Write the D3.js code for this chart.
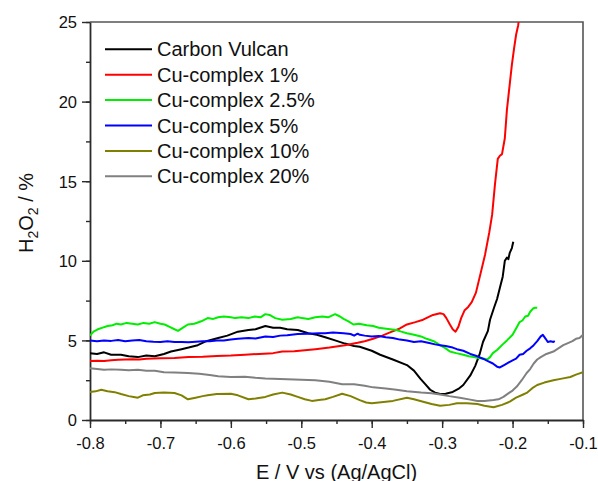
<!DOCTYPE html>
<html>
<head>
<meta charset="utf-8">
<script src="https://cdn.jsdelivr.net/npm/d3@7"></script>
<style>
  html, body { margin: 0; padding: 0; background: #fff; }
  svg { display: block; font-family: "Liberation Sans", Arial, sans-serif; }
</style>
</head>
<body>
<svg id="chart" width="598" height="481"></svg>
<script>
// Potential (V vs Ag/AgCl) and H2O2 yield (%) for each catalyst, as [E, H2O2] pairs
const carbonVulcan = [[-0.8,4.2],[-0.79,4.15],[-0.78,4.25],[-0.77,4.1],[-0.756,4.1],[-0.745,4.0],[-0.732,3.95],[-0.72,4.05],[-0.708,4.0],[-0.695,4.15],[-0.685,4.3],[-0.67,4.45],[-0.66,4.55],[-0.647,4.7],[-0.635,4.95],[-0.618,5.15],[-0.605,5.3],[-0.59,5.55],[-0.575,5.65],[-0.565,5.7],[-0.551,5.9],[-0.54,5.8],[-0.53,5.8],[-0.52,5.7],[-0.505,5.65],[-0.49,5.45],[-0.478,5.35],[-0.466,5.2],[-0.452,5.0],[-0.438,4.8],[-0.425,4.65],[-0.417,4.6],[-0.4,4.35],[-0.388,4.1],[-0.37,3.8],[-0.35,3.45],[-0.34,3.1],[-0.331,2.6],[-0.324,2.25],[-0.317,1.9],[-0.31,1.72],[-0.303,1.63],[-0.295,1.65],[-0.285,1.76],[-0.277,1.95],[-0.27,2.2],[-0.26,2.8],[-0.253,3.4],[-0.247,4.1],[-0.242,4.9],[-0.235,5.6],[-0.232,6.3],[-0.226,7.1],[-0.222,7.6],[-0.218,8.3],[-0.214,9.0],[-0.211,10.0],[-0.208,10.2],[-0.206,10.1],[-0.204,10.5],[-0.201,10.8],[-0.199,11.2]];
const cu1 = [[-0.8,3.7],[-0.79,3.72],[-0.78,3.7],[-0.77,3.75],[-0.76,3.78],[-0.75,3.8],[-0.74,3.82],[-0.73,3.8],[-0.72,3.85],[-0.7,3.88],[-0.68,3.9],[-0.66,3.95],[-0.64,3.97],[-0.62,4.02],[-0.6,4.05],[-0.58,4.1],[-0.56,4.15],[-0.54,4.2],[-0.527,4.3],[-0.51,4.32],[-0.495,4.38],[-0.48,4.45],[-0.46,4.55],[-0.438,4.7],[-0.42,4.85],[-0.41,4.95],[-0.398,5.1],[-0.385,5.3],[-0.374,5.5],[-0.36,5.75],[-0.35,6.0],[-0.338,6.15],[-0.327,6.3],[-0.313,6.6],[-0.303,6.7],[-0.298,6.65],[-0.294,6.4],[-0.289,6.0],[-0.285,5.7],[-0.281,5.55],[-0.277,5.85],[-0.273,6.4],[-0.268,6.9],[-0.263,7.1],[-0.258,7.4],[-0.252,8.0],[-0.246,9.1],[-0.239,10.4],[-0.233,11.8],[-0.229,12.9],[-0.225,14.8],[-0.221,16.4],[-0.218,16.6],[-0.215,16.7],[-0.211,17.7],[-0.208,19.5],[-0.206,20.3],[-0.203,21.5],[-0.201,22.3],[-0.198,23.3],[-0.195,24.2],[-0.192,24.8],[-0.19,25.6]];
const cu2_5 = [[-0.8,5.3],[-0.795,5.55],[-0.789,5.7],[-0.782,5.8],[-0.775,5.9],[-0.768,5.95],[-0.762,6.05],[-0.756,6.0],[-0.748,6.1],[-0.74,6.05],[-0.732,6.0],[-0.724,6.1],[-0.716,6.05],[-0.708,6.15],[-0.7,6.05],[-0.694,6.0],[-0.687,5.85],[-0.68,5.7],[-0.675,5.6],[-0.668,5.8],[-0.661,6.0],[-0.652,6.05],[-0.642,6.2],[-0.633,6.4],[-0.625,6.35],[-0.618,6.45],[-0.61,6.5],[-0.6,6.45],[-0.594,6.4],[-0.585,6.45],[-0.575,6.4],[-0.566,6.5],[-0.558,6.45],[-0.551,6.65],[-0.545,6.6],[-0.537,6.4],[-0.527,6.3],[-0.515,6.35],[-0.505,6.45],[-0.499,6.4],[-0.49,6.35],[-0.48,6.45],[-0.47,6.5],[-0.462,6.45],[-0.452,6.65],[-0.445,6.5],[-0.44,6.35],[-0.433,6.2],[-0.426,6.0],[-0.418,6.05],[-0.407,5.95],[-0.398,5.9],[-0.39,5.8],[-0.382,5.75],[-0.374,5.7],[-0.365,5.65],[-0.358,5.55],[-0.35,5.45],[-0.34,5.35],[-0.33,5.25],[-0.322,5.1],[-0.312,4.95],[-0.303,4.7],[-0.295,4.5],[-0.289,4.3],[-0.28,4.2],[-0.27,4.1],[-0.262,4.0],[-0.255,3.95],[-0.248,3.9],[-0.24,3.85],[-0.236,3.8],[-0.232,3.95],[-0.228,4.2],[-0.222,4.4],[-0.214,4.75],[-0.208,5.0],[-0.2,5.35],[-0.195,5.75],[-0.19,6.15],[-0.186,6.25],[-0.182,6.5],[-0.178,6.55],[-0.175,6.8],[-0.171,7.0],[-0.168,7.05],[-0.165,7.05]];
const cu5 = [[-0.8,5.0],[-0.79,4.95],[-0.78,5.0],[-0.77,4.97],[-0.76,5.02],[-0.75,4.95],[-0.74,5.0],[-0.73,5.02],[-0.72,4.95],[-0.71,4.92],[-0.7,4.9],[-0.69,4.95],[-0.68,4.9],[-0.67,4.9],[-0.66,4.88],[-0.65,4.92],[-0.64,4.95],[-0.63,4.95],[-0.62,5.0],[-0.61,5.0],[-0.6,5.05],[-0.59,5.1],[-0.575,5.15],[-0.565,5.12],[-0.551,5.25],[-0.54,5.22],[-0.53,5.3],[-0.52,5.32],[-0.505,5.4],[-0.49,5.42],[-0.475,5.45],[-0.466,5.45],[-0.455,5.5],[-0.44,5.45],[-0.43,5.4],[-0.425,5.3],[-0.42,5.42],[-0.417,5.35],[-0.41,5.3],[-0.4,5.25],[-0.39,5.28],[-0.38,5.2],[-0.37,5.15],[-0.36,5.05],[-0.35,5.0],[-0.34,4.9],[-0.33,4.95],[-0.32,4.85],[-0.31,4.75],[-0.303,4.7],[-0.295,4.65],[-0.285,4.55],[-0.279,4.45],[-0.27,4.35],[-0.26,4.15],[-0.25,4.0],[-0.242,3.85],[-0.235,3.7],[-0.228,3.55],[-0.222,3.35],[-0.218,3.3],[-0.212,3.45],[-0.206,3.6],[-0.2,3.75],[-0.195,3.85],[-0.19,4.1],[-0.185,4.15],[-0.18,4.35],[-0.175,4.5],[-0.17,4.7],[-0.165,4.95],[-0.16,5.25],[-0.157,5.35],[-0.153,5.1],[-0.15,4.9],[-0.146,4.95],[-0.142,4.9],[-0.14,4.95]];
const cu10 = [[-0.8,1.76],[-0.792,1.8],[-0.784,1.9],[-0.775,1.8],[-0.765,1.75],[-0.756,1.63],[-0.745,1.5],[-0.738,1.45],[-0.732,1.4],[-0.725,1.55],[-0.715,1.6],[-0.708,1.7],[-0.695,1.72],[-0.68,1.7],[-0.67,1.55],[-0.661,1.3],[-0.65,1.4],[-0.64,1.5],[-0.633,1.55],[-0.62,1.63],[-0.6,1.65],[-0.59,1.55],[-0.575,1.3],[-0.565,1.35],[-0.551,1.45],[-0.54,1.6],[-0.527,1.72],[-0.515,1.6],[-0.505,1.45],[-0.495,1.3],[-0.485,1.2],[-0.475,1.25],[-0.466,1.3],[-0.455,1.45],[-0.442,1.65],[-0.43,1.5],[-0.417,1.25],[-0.408,1.1],[-0.4,1.05],[-0.39,1.1],[-0.37,1.2],[-0.35,1.4],[-0.34,1.3],[-0.327,1.15],[-0.315,1.0],[-0.303,0.9],[-0.29,0.95],[-0.279,1.05],[-0.265,1.05],[-0.25,1.0],[-0.24,0.9],[-0.227,0.8],[-0.215,0.95],[-0.204,1.15],[-0.195,1.4],[-0.185,1.6],[-0.18,1.7],[-0.172,2.0],[-0.165,2.2],[-0.155,2.35],[-0.142,2.5],[-0.13,2.6],[-0.118,2.7],[-0.11,2.85],[-0.1,3.0]];
const cu20 = [[-0.8,3.25],[-0.79,3.2],[-0.78,3.15],[-0.77,3.18],[-0.756,3.15],[-0.745,3.12],[-0.732,3.15],[-0.72,3.1],[-0.708,3.1],[-0.695,3.0],[-0.68,2.98],[-0.661,2.95],[-0.645,2.9],[-0.63,2.82],[-0.618,2.75],[-0.6,2.7],[-0.58,2.72],[-0.565,2.65],[-0.551,2.6],[-0.53,2.58],[-0.51,2.55],[-0.48,2.5],[-0.46,2.4],[-0.442,2.25],[-0.425,2.25],[-0.41,2.15],[-0.398,2.05],[-0.38,1.98],[-0.365,1.9],[-0.35,1.8],[-0.33,1.72],[-0.315,1.68],[-0.303,1.6],[-0.29,1.5],[-0.275,1.4],[-0.26,1.28],[-0.25,1.2],[-0.24,1.2],[-0.227,1.25],[-0.22,1.3],[-0.213,1.45],[-0.205,1.7],[-0.2,1.85],[-0.194,2.1],[-0.187,2.5],[-0.18,2.95],[-0.175,3.2],[-0.17,3.55],[-0.165,3.8],[-0.16,3.95],[-0.152,4.15],[-0.142,4.3],[-0.135,4.5],[-0.128,4.7],[-0.123,4.8],[-0.115,4.95],[-0.11,5.1],[-0.105,5.15],[-0.1,5.35]];

const seriesNames = ["Carbon Vulcan", "Cu-complex 1%", "Cu-complex 2.5%", "Cu-complex 5%", "Cu-complex 10%", "Cu-complex 20%"];
const seriesData = [carbonVulcan, cu1, cu2_5, cu5, cu10, cu20];
const seriesColors = ["#000000", "#ff0000", "#00ee00", "#0000ff", "#808000", "#808080"];

const xTicks = [-0.8, -0.7, -0.6, -0.5, -0.4, -0.3, -0.2, -0.1];
const yTicks = [0, 5, 10, 15, 20, 25];

const svg = d3.select("#chart");
const margin = { left: 90, right: 15, top: 22, bottom: 61 };
const W = 598, H = 481;

const x = d3.scaleLinear().domain([-0.8, -0.1]).range([margin.left, W - margin.right]);
const y = d3.scaleLinear().domain([0, 25]).range([H - margin.bottom, margin.top]);

svg.append("clipPath").attr("id", "plot-clip")
  .append("rect")
  .attr("x", x.range()[0]).attr("y", y.range()[1])
  .attr("width", x.range()[1] - x.range()[0])
  .attr("height", y.range()[0] - y.range()[1]);

const axisColor = "#2b2b2b";

// Frame (top and right edges)
svg.append("path")
  .attr("d", `M${x.range()[0]},${y.range()[1]}H${x.range()[1]}V${y.range()[0]}`)
  .attr("fill", "none").attr("stroke", "#555").attr("stroke-width", 1.6);

// Minor ticks
const xMinor = d3.range(-0.8, -0.099, 0.05).map(v => +v.toFixed(2));
const yMinor = d3.range(0, 25.01, 2.5);
svg.append("g")
  .attr("transform", `translate(0,${y.range()[0]})`)
  .call(d3.axisBottom(x).tickValues(xMinor).tickSize(4).tickFormat(""))
  .call(g => g.select(".domain").remove())
  .call(g => g.selectAll("line").attr("stroke", axisColor).attr("stroke-width", 1.4));
svg.append("g")
  .attr("transform", `translate(${x.range()[0]},0)`)
  .call(d3.axisLeft(y).tickValues(yMinor).tickSize(4).tickFormat(""))
  .call(g => g.select(".domain").remove())
  .call(g => g.selectAll("line").attr("stroke", axisColor).attr("stroke-width", 1.4));

// Major axes
const xAxis = svg.append("g")
  .attr("transform", `translate(0,${y.range()[0]})`)
  .call(d3.axisBottom(x).tickValues(xTicks).tickSize(8).tickSizeOuter(0).tickPadding(5)
    .tickFormat(d => d3.format(".1f")(d).replace("−", "-")));
const yAxis = svg.append("g")
  .attr("transform", `translate(${x.range()[0]},0)`)
  .call(d3.axisLeft(y).tickValues(yTicks).tickSize(8).tickSizeOuter(0).tickPadding(5));

[xAxis, yAxis].forEach(g => {
  g.select(".domain").attr("stroke", axisColor).attr("stroke-width", 1.8);
  g.selectAll(".tick line").attr("stroke", axisColor).attr("stroke-width", 1.4);
  g.selectAll(".tick text")
    .attr("fill", "#111")
    .style("font-family", "'Liberation Sans', Arial, sans-serif")
    .style("font-size", "16.5px");
});
xAxis.selectAll(".tick text").attr("dy", "0.95em");
yAxis.selectAll(".tick text").attr("dy", "0.36em");

// Data lines
const line = d3.line().x(d => x(d[0])).y(d => y(d[1]));
const plot = svg.append("g").attr("clip-path", "url(#plot-clip)");
seriesData.forEach((data, i) => {
  plot.append("path")
    .datum(data)
    .attr("d", line)
    .attr("fill", "none")
    .attr("stroke", seriesColors[i])
    .attr("stroke-width", 2)
    .attr("stroke-linejoin", "round");
});

// Legend
const legend = svg.append("g");
seriesNames.forEach((name, i) => {
  const ly = 49.3 + i * 25.4;
  legend.append("line")
    .attr("x1", 105).attr("x2", 152)
    .attr("y1", ly).attr("y2", ly)
    .attr("stroke", seriesColors[i]).attr("stroke-width", 2);
  legend.append("text")
    .attr("x", 157).attr("y", ly + 7)
    .attr("fill", "#111")
    .style("font-size", "20px")
    .text(name);
});

// Axis titles
svg.append("text")
  .attr("x", (x.range()[0] + x.range()[1]) / 2)
  .attr("y", 479)
  .attr("text-anchor", "middle")
  .attr("fill", "#111")
  .style("font-size", "20px")
  .text("E / V vs (Ag/AgCl)");

const yTitle = svg.append("text")
  .attr("transform", "translate(33,213) rotate(-90)")
  .attr("text-anchor", "middle")
  .attr("fill", "#111")
  .style("font-size", "20px");
yTitle.append("tspan").text("H");
yTitle.append("tspan").attr("dy", 5).style("font-size", "14px").text("2");
yTitle.append("tspan").attr("dy", -5).text("O");
yTitle.append("tspan").attr("dy", 5).style("font-size", "14px").text("2");
yTitle.append("tspan").attr("dy", -5).text(" / %");
</script>
</body>
</html>
